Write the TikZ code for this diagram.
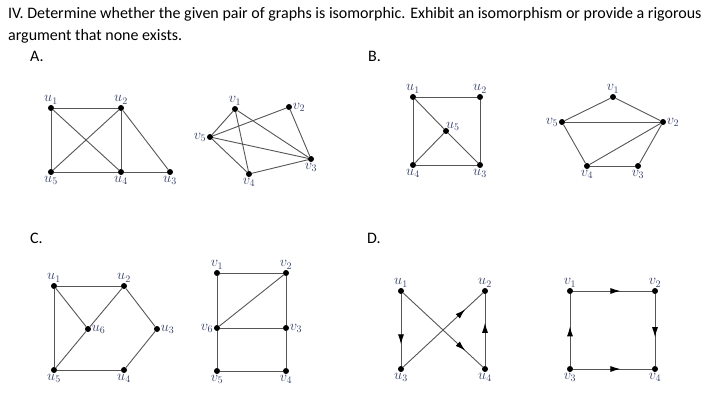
\documentclass[tikz,border=0pt]{standalone}
\usepackage{amsmath}
\usepackage{fontspec}
\setmainfont{Carlito}
\usepackage{tikz}
\usetikzlibrary{positioning,arrows.meta,decorations.markings}
\definecolor{lblcol}{RGB}{55,65,105}
\definecolor{edgecol}{RGB}{85,85,85}
\tikzset{
	x=1pt, y=-1pt,
	dot/.style = {circle, fill, inner sep=0pt, minimum size=6pt}, % vertex of the graphs
	my edge/.style = {-, edgecol, line width=0.9pt},
	mid arrow/.style = {postaction={decorate, decoration={markings, mark=at position #1 with {\arrow[black]{Latex[length=10pt,width=6pt]}}}}},
	mid arrow/.default = 0.6,
	every label/.style = {text=lblcol, font=\fontsize{14}{14}\selectfont, inner sep=0.5pt}
}
\newcommand{\hdr}{\fontsize{16}{19}\selectfont}

\begin{document}
\begin{tikzpicture}
	\useasboundingbox (0,0) rectangle (714,412);
	% question text
	\node[anchor=base west, inner sep=0pt, font=\hdr] (q1) at (8,19) {IV. Determine whether the given pair of graphs is isomorphic. Exhibit an isomorphism or provide a rigorous};
	\node[anchor=base west, inner sep=0pt, font=\hdr] (q2) at (8,41) {argument that none exists.};
	\node[anchor=base west, inner sep=0pt, font=\hdr] (pa) at (30,62) {A.};
	\node[anchor=base west, inner sep=0pt, font=\hdr] (pb) at (368,62) {B.};
	\node[anchor=base west, inner sep=0pt, font=\hdr] (pc) at (30,243) {C.};
	\node[anchor=base west, inner sep=0pt, font=\hdr] (pd) at (367,243) {D.};

	% A
	\node[dot, label=above:$u_1$] (a1) at (51,108) {};
	\node[dot, label=above:$u_2$] (a2) at (121,108) {};
	\node[dot, label=below:$u_3$] (a3) at (170,172) {};
	\node[dot, label=below:$u_4$] (a4) at (121,172) {};
	\node[dot, label=below:$u_5$] (a5) at (51,172) {};
	\draw[my edge] (a1) -- (a2);
	\draw[my edge] (a1) -- (a5);
	\draw[my edge] (a1) -- (a4);
	\draw[my edge] (a2) -- (a5);
	\draw[my edge] (a2) -- (a4);
	\draw[my edge] (a2) -- (a3);
	\draw[my edge] (a5) -- (a4);
	\draw[my edge] (a4) -- (a3);

	\node[dot, label=above:$v_1$] (b1) at (235,109) {};
	\node[dot, label=right:$v_2$] (b2) at (289,107) {};
	\node[dot, label=below:$v_3$] (b3) at (311,159) {};
	\node[dot, label=below:$v_4$] (b4) at (249,174) {};
	\node[dot, label=left:$v_5$] (b5) at (210,137) {};
	\draw[my edge] (b1) -- (b5);
	\draw[my edge] (b1) -- (b4);
	\draw[my edge] (b1) -- (b3);
	\draw[my edge] (b2) -- (b5);
	\draw[my edge] (b2) -- (b3);
	\draw[my edge] (b5) -- (b3);
	\draw[my edge] (b5) -- (b4);
	\draw[my edge] (b4) -- (b3);

	% B
	\node[dot, label=above:$u_1$] (c1) at (413,97) {};
	\node[dot, label=above:$u_2$] (c2) at (480,97) {};
	\node[dot, label=below:$u_3$] (c3) at (480,165) {};
	\node[dot, label=below:$u_4$] (c4) at (413,165) {};
	\node[dot, label={[label distance=-4pt]above right:$u_5$}] (c5) at (446,131) {};
	\draw[my edge] (c1) -- (c2);
	\draw[my edge] (c1) -- (c4);
	\draw[my edge] (c2) -- (c3);
	\draw[my edge] (c4) -- (c3);
	\draw[my edge] (c1) -- (c5);
	\draw[my edge] (c5) -- (c3);
	\draw[my edge] (c5) -- (c4);

	\node[dot, label=above:$v_1$] (d1) at (613,97) {};
	\node[dot, label=right:$v_2$] (d2) at (663,122) {};
	\node[dot, label=below:$v_3$] (d3) at (638,166) {};
	\node[dot, label=below:$v_4$] (d4) at (587,166) {};
	\node[dot, label=left:$v_5$] (d5) at (562,122) {};
	\draw[my edge] (d1) -- (d5);
	\draw[my edge] (d1) -- (d2);
	\draw[my edge] (d5) -- (d2);
	\draw[my edge] (d5) -- (d4);
	\draw[my edge] (d4) -- (d2);
	\draw[my edge] (d4) -- (d3);
	\draw[my edge] (d3) -- (d2);

	% C
	\node[dot, label=above:$u_1$] (e1) at (54,286) {};
	\node[dot, label=above:$u_2$] (e2) at (124,286) {};
	\node[dot, label=right:$u_3$] (e3) at (157,329) {};
	\node[dot, label=below:$u_4$] (e4) at (124,370) {};
	\node[dot, label=below:$u_5$] (e5) at (54,370) {};
	\node[dot, label=right:$u_6$] (e6) at (88,329) {};
	\draw[my edge] (e1) -- (e2);
	\draw[my edge] (e1) -- (e5);
	\draw[my edge] (e1) -- (e6);
	\draw[my edge] (e2) -- (e6);
	\draw[my edge] (e2) -- (e3);
	\draw[my edge] (e3) -- (e4);
	\draw[my edge] (e4) -- (e5);
	\draw[my edge] (e5) -- (e6);

	\node[dot, label=above:$v_1$] (f1) at (217,273) {};
	\node[dot, label=above:$v_2$] (f2) at (286,273) {};
	\node[dot, label=right:$v_3$] (f3) at (286,328) {};
	\node[dot, label=below:$v_4$] (f4) at (286,371) {};
	\node[dot, label=below:$v_5$] (f5) at (217,371) {};
	\node[dot, label=left:$v_6$] (f6) at (217,328) {};
	\draw[my edge] (f1) -- (f2);
	\draw[my edge] (f1) -- (f6);
	\draw[my edge] (f2) -- (f6);
	\draw[my edge] (f2) -- (f3);
	\draw[my edge] (f6) -- (f3);
	\draw[my edge] (f6) -- (f5);
	\draw[my edge] (f3) -- (f4);
	\draw[my edge] (f5) -- (f4);

	% D
	\node[dot, label=above:$u_1$] (g1) at (401,291) {};
	\node[dot, label=above:$u_2$] (g2) at (485,291) {};
	\node[dot, label=below:$u_3$] (g3) at (401,369) {};
	\node[dot, label=below:$u_4$] (g4) at (485,369) {};
	\draw[my edge, mid arrow=0.7] (g1) -- (g3);
	\draw[my edge, mid arrow=0.78] (g1) -- (g4);
	\draw[my edge, mid arrow=0.78] (g3) -- (g2);
	\draw[my edge, mid arrow=0.6] (g4) -- (g2);

	\node[dot, label=above:$v_1$] (h1) at (570,291) {};
	\node[dot, label=above:$v_2$] (h2) at (655,291) {};
	\node[dot, label=below:$v_3$] (h3) at (570,369) {};
	\node[dot, label=below:$v_4$] (h4) at (655,369) {};
	\draw[my edge, mid arrow] (h1) -- (h2);
	\draw[my edge, mid arrow] (h2) -- (h4);
	\draw[my edge, mid arrow=0.55] (h3) -- (h1);
	\draw[my edge, mid arrow] (h3) -- (h4);
\end{tikzpicture}
\end{document}
